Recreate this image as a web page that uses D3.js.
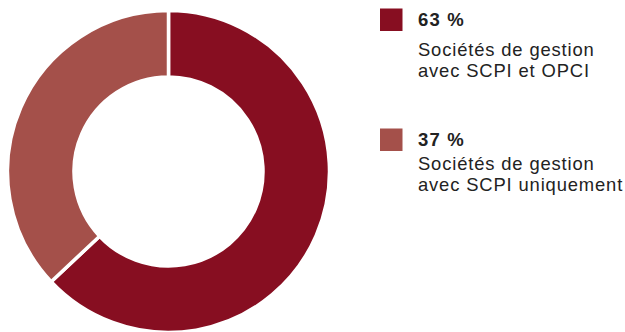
<!DOCTYPE html>
<html><head><meta charset="utf-8">
<script src="https://cdn.jsdelivr.net/npm/d3@7"></script>
<style>body{margin:0;background:#fff}svg{display:block}text{font-family:"Liberation Sans",Arial,sans-serif;fill:#222}</style>
</head><body>
<svg id="c" width="625" height="332"></svg>
<script>
const categories = ["Sociétés de gestion|avec SCPI et OPCI", "Sociétés de gestion|avec SCPI uniquement"];
const values = [63, 37];
const valueLabels = ["63 %", "37 %"];
const colors = ["#870e21", "#a4504a"];

const svg = d3.select("#c");
const cx = 168.5, cy = 171.5, rOut = 161, rIn = 94.5;
const pie = d3.pie().sort(null).value(d => d)(values);
const arc = d3.arc().innerRadius(rIn).outerRadius(rOut);
const g = svg.append("g").attr("transform", `translate(${cx},${cy})`);
g.selectAll("path").data(pie).join("path")
  .attr("d", arc).attr("fill", (d,i) => colors[i])
  .attr("stroke", "#fff").attr("stroke-width", 3.5);

const legendY = [8.5, 128.5];
const lg = svg.append("g");
categories.forEach((c, i) => {
  const y = legendY[i];
  lg.append("rect").attr("x", 380).attr("y", y).attr("width", 22.5).attr("height", 22.5).attr("fill", colors[i]);
  lg.append("text").attr("x", 418).attr("y", y + 17.3).attr("font-size", 18.5).attr("font-weight", "bold")
    .attr("letter-spacing", 1.2).text(valueLabels[i]);
  c.split("|").forEach((line, j) => {
    lg.append("text").attr("x", 418).attr("y", y + 41 + j * 21.8 + (i === 0 ? 6 : 0))
      .attr("font-size", 18.4).attr("letter-spacing", 0.85).text(line);
  });
});
</script>
</body></html>
